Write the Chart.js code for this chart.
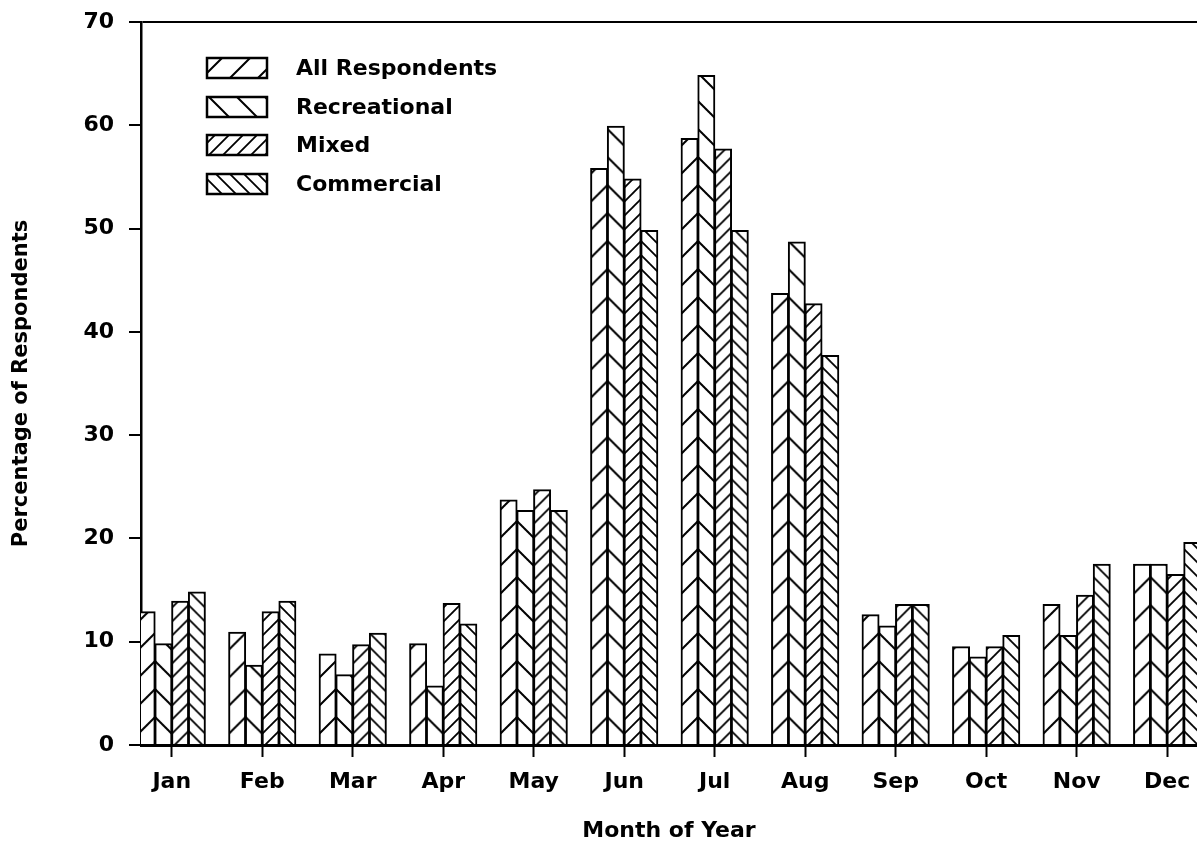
<!DOCTYPE html>
<html>
<head>
<meta charset="utf-8">
<script src="https://cdn.jsdelivr.net/npm/chart.js@4/dist/chart.umd.min.js"></script>
<style>
  html, body { margin: 0; padding: 0; background: #fff; }
  canvas { display: block; }
</style>
</head>
<body>
<canvas id="c" width="1197" height="842"></canvas>
<script>
// Valeurs (pourcentage de répondants par mois)
const months = ['Jan', 'Feb', 'Mar', 'Apr', 'May', 'Jun', 'Jul', 'Aug', 'Sep', 'Oct', 'Nov', 'Dec'];
const allRespondents = [12.9, 10.9, 8.8, 9.8, 23.7, 55.8, 58.7, 43.7, 12.6, 9.5, 13.6, 17.5];
const recreational = [9.8, 7.7, 6.8, 5.7, 22.7, 59.9, 64.8, 48.7, 11.5, 8.5, 10.6, 17.5];
const mixed = [13.9, 12.9, 9.7, 13.7, 24.7, 54.8, 57.7, 42.7, 13.6, 9.5, 14.5, 16.5];
const commercial = [14.8, 13.9, 10.8, 11.7, 22.7, 49.8, 49.8, 37.7, 13.6, 10.6, 17.5, 19.6];
const yTicks = [0, 10, 20, 30, 40, 50, 60, 70];

const FONT = 'DejaVu Sans';
const CAT_PCT = 0.74;
const canvas = document.getElementById('c');
const ctx = canvas.getContext('2d');

// tuile hachurée : '/' ou '\'
function hatchTile(dir, p, lw) {
    const c = document.createElement('canvas');
    c.width = p; c.height = p;
    const g = c.getContext('2d');
    g.fillStyle = '#fff';
    g.fillRect(0, 0, p, p);
    g.strokeStyle = '#000';
    g.lineWidth = lw;
    g.lineCap = 'square';
    g.beginPath();
    if (dir === '/') {
        g.moveTo(0, p); g.lineTo(p, 0);
        g.moveTo(-p / 2, p / 2); g.lineTo(p / 2, -p / 2);
        g.moveTo(p / 2, p * 1.5); g.lineTo(p * 1.5, p / 2);
    } else {
        g.moveTo(0, 0); g.lineTo(p, p);
        g.moveTo(-p / 2, p / 2); g.lineTo(p / 2, p * 1.5);
        g.moveTo(p / 2, -p / 2); g.lineTo(p * 1.5, p / 2);
    }
    g.stroke();
    return c;
}

function toPoints(arr) {
    return arr.map((v, i) => ({ x: i, y: v }));
}

const series = [
    { label: 'All Respondents', data: allRespondents, tile: hatchTile('/', 28, 2), side: -1 },
    { label: 'Recreational', data: recreational, tile: hatchTile('\\', 28, 2), side: -1 },
    { label: 'Mixed', data: mixed, tile: hatchTile('/', 14, 1.8), side: 1 },
    { label: 'Commercial', data: commercial, tile: hatchTile('\\', 14, 1.8), side: 1 }
];
series.forEach(s => { s.legendFill = ctx.createPattern(s.tile, 'repeat'); });

// motif calé sur la jonction des barres pour obtenir les chevrons
const patCache = {};
function barPattern(context) {
    const s = series[context.datasetIndex];
    const xs = context.chart.scales.x;
    const ys = context.chart.scales.y;
    if (!xs || !ys || context.dataIndex === undefined) return s.legendFill;
    const unit = xs.getPixelForValue(1) - xs.getPixelForValue(0);
    const chunk = unit * CAT_PCT / 4;
    const tx = xs.getPixelForValue(context.dataIndex) + s.side * chunk;
    const ty = ys.getPixelForValue(0);
    const key = context.datasetIndex + ':' + tx.toFixed(2) + ':' + ty.toFixed(2);
    if (!patCache[key]) {
        const p = ctx.createPattern(s.tile, 'repeat');
        p.setTransform(new DOMMatrix().translate(tx, ty));
        patCache[key] = p;
    }
    return patCache[key];
}

// légende dessinée dans la zone du graphique
const insideLegend = {
    id: 'insideLegend',
    afterDraw(chart) {
        const c = chart.ctx;
        const rows = [68, 107, 145, 184];
        c.save();
        series.forEach((s, i) => {
            const y = rows[i];
            c.fillStyle = s.legendFill;
            c.fillRect(207, y - 10, 60, 20);
            c.strokeStyle = '#000';
            c.lineWidth = 2.5;
            c.strokeRect(207, y - 10, 60, 20);
            c.fillStyle = '#000';
            c.font = 'bold 22px "' + FONT + '"';
            c.textBaseline = 'middle';
            c.textAlign = 'left';
            c.fillText(s.label, 296, y + 1);
        });
        c.restore();
    }
};

new Chart(ctx, {
    type: 'bar',
    data: {
        datasets: series.map(s => ({
            label: s.label,
            data: toPoints(s.data),
            backgroundColor: barPattern,
            borderColor: '#000',
            borderWidth: 2,
            borderSkipped: 'start',
            inflateAmount: 0.6
        }))
    },
    options: {
        responsive: false,
        animation: false,
        devicePixelRatio: 1,
        layout: { padding: { top: 22, right: 0, bottom: 0, left: 0 } },
        datasets: {
            bar: { categoryPercentage: CAT_PCT, barPercentage: 1.0 }
        },
        plugins: {
            legend: { display: false },
            tooltip: { enabled: false }
        },
        scales: {
            x: {
                type: 'linear',
                offset: false,
                min: -0.34,
                max: 11.33,
                afterBuildTicks(scale) {
                    scale.ticks = months.map((m, i) => ({ value: i }));
                },
                afterFit(scale) {
                    scale.height = 97;
                    scale.paddingLeft = 0;
                    scale.paddingRight = 0;
                },
                grid: {
                    offset: false,
                    drawOnChartArea: false,
                    drawTicks: true,
                    tickLength: 12,
                    tickColor: '#000',
                    tickWidth: 2
                },
                border: { display: true, color: '#000', width: 3 },
                ticks: {
                    autoSkip: false,
                    maxRotation: 0,
                    color: '#000',
                    padding: 12,
                    font: { family: FONT, size: 22, weight: 'bold' },
                    callback: (v) => months[v]
                },
                title: {
                    display: true,
                    text: 'Month of Year',
                    color: '#000',
                    padding: { top: 0, bottom: 0 },
                    font: { family: FONT, size: 22, weight: 'bold', lineHeight: 1 }
                }
            },
            y: {
                min: 0,
                max: 70,
                afterBuildTicks(scale) {
                    scale.ticks = yTicks.map(v => ({ value: v }));
                },
                afterFit(scale) {
                    scale.width = 141;
                    scale.paddingTop = 0;
                    scale.paddingBottom = 0;
                },
                grid: {
                    drawOnChartArea: true,
                    color: (c) => (c.tick && c.tick.value === 70 ? '#000' : 'rgba(0,0,0,0)'),
                    lineWidth: 2,
                    tickLength: 12,
                    tickColor: '#000',
                    tickWidth: 2
                },
                border: { display: true, color: '#000', width: 2.5 },
                ticks: {
                    color: '#000',
                    padding: 15,
                    font: { family: FONT, size: 22, weight: 'bold' }
                },
                title: {
                    display: true,
                    text: 'Percentage of Respondents',
                    color: '#000',
                    padding: { top: 9, bottom: 0 },
                    font: { family: FONT, size: 21, weight: 'bold' }
                }
            }
        }
    },
    plugins: [insideLegend]
});
</script>
</body>
</html>
